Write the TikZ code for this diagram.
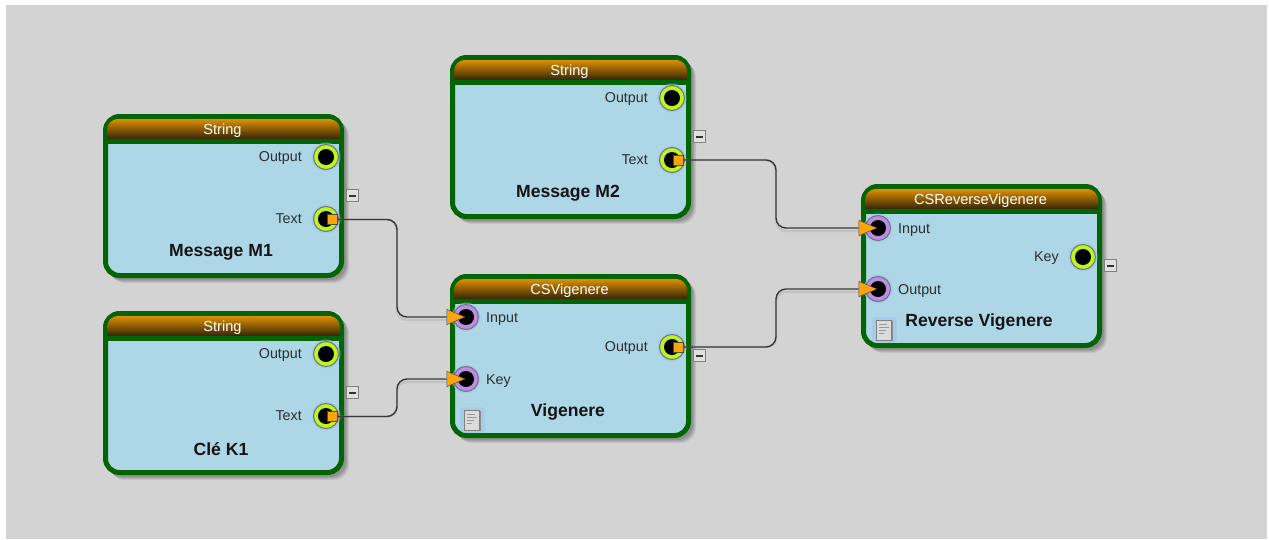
\documentclass[tikz,border=0pt]{standalone}
\usepackage{fontspec}
\setmainfont{Liberation Sans}
\usetikzlibrary{arrows.meta}
\definecolor{canvasgray}{HTML}{D3D3D3}
\definecolor{boxgreen}{HTML}{036403}
\definecolor{bodyblue}{HTML}{ADD6E6}
\definecolor{hdrtop}{HTML}{DD8F00}
\definecolor{hdrbot}{HTML}{33250A}
\definecolor{ringlime}{HTML}{BDF520}
\definecolor{ringpurple}{HTML}{BC8CE6}
\definecolor{halo}{HTML}{9DC4EE}
\definecolor{tiporange}{HTML}{FFA50A}
\tikzset{
  x=1pt,y=-1pt,
  boxshell/.style={draw=boxgreen,line width=5pt,fill=bodyblue,rounded corners=14pt},
  boxshadow/.style={fill=black,rounded corners=15pt},
  hdrtext/.style={font=\fontsize{14.6}{15}\selectfont,text=white,inner sep=0pt},
  titletext/.style={font=\fontsize{17.6}{18}\selectfont\bfseries,text=black!92,inner sep=0pt},
  lbl/.style={font=\fontsize{14.3}{15}\selectfont,text=black!82,inner sep=0pt},
  outport/.style={circle,draw=black!55,line width=1pt,fill=ringlime,minimum size=25pt,inner sep=0pt},
  inport/.style={circle,draw=black!55,line width=1pt,fill=ringpurple,minimum size=25pt,inner sep=0pt},
  portcore/.style={circle,fill=black,minimum size=16pt,inner sep=0pt},
  sqnode/.style={draw=black!70,line width=0.7pt,fill=tiporange,minimum size=10pt,inner sep=0pt},
  minusbox/.style={draw=black!50,line width=0.7pt,fill=black!12,minimum size=12pt,inner sep=0pt},
  docicon/.style={draw=black!50,line width=0.9pt,fill=black!14,minimum width=15pt,minimum height=20pt,inner sep=0pt},
  wire/.style={draw=black!78,line width=1.4pt,rounded corners=10pt},
  wireshadow/.style={draw=black!40,opacity=0.28,line width=2.4pt,rounded corners=10pt},
  arrowwire/.style={wire,shorten >=0.5pt,-{Triangle[length=19pt,width=16pt,fill=tiporange,color=black!70,line width=0.5pt,fill=tiporange]}},
}
\newcommand{\blockbox}[5]{% name, x, y, header, title
  \begin{scope}[shift={(#2,#3)}]
    \foreach \s/\o in {7/0.07,6/0.08,5/0.09,4/0.10}
      \fill[boxshadow,opacity=\o] (0+\s,0+\s) rectangle (241+\s-2,164+\s-2);
    \path[boxshell] (2.5,2.5) rectangle (238.5,161.5);
    \shade[top color=hdrtop,bottom color=hdrbot] (4,25) [rounded corners=11pt] -- (4,5) -- (237,5) [sharp corners] -- (237,25) -- cycle;
    \fill[boxgreen] (3,24.5) rectangle (238,30);
    \node[hdrtext] (#1hdr) at (119.5,17) {#4};
    \node[titletext] (#1title) at (118,138) {#5};
    \node[minusbox] (#1minus) at (249,81.5) {};
    \fill[black!80] (245.5,81) rectangle (252.5,82.5);
  \end{scope}
}
\newcommand{\portO}[4]{% name,x,y,label
  \fill[halo,opacity=.55] (#2,#3) circle (14.5pt);
  \node[outport] (#1) at (#2,#3) {};
  \node[portcore] at (#2,#3) {};
  \node[lbl,anchor=mid east] (#1lbl) at (#2-24,#3+2) {#4};
}
\newcommand{\portI}[4]{%
  \fill[halo,opacity=.55] (#2,#3) circle (14.5pt);
  \node[inport] (#1) at (#2,#3) {};
  \node[portcore] at (#2,#3) {};
  \node[lbl,anchor=mid west] (#1lbl) at (#2+20,#3+3) {#4};
}
\newcommand{\docmark}[3]{%
  \fill[halo,opacity=.45,rounded corners=4pt] (#2-12,#3-13) rectangle (#2+13,#3+13);
  \fill[black!45] (#2-6,#3-9) rectangle (#2+9,#3+11);
  \node[docicon] (#1) at (#2,#3) {};
  \draw[black!40,line width=.6pt] (#2-5,#3-6) -- (#2+3,#3-6) (#2-5,#3-3) -- (#2+5,#3-3) (#2-5,#3) -- (#2+2,#3) (#2-5,#3+3) -- (#2,#3+3);
}
\begin{document}
\begin{tikzpicture}
\useasboundingbox (0,0) rectangle (1269,539);
\fill[white] (0,0) rectangle (1269,539);
\fill[canvasgray] (6,5) rectangle (1267,539);

\blockbox{ma}{103}{114}{String}{Message M1}
\blockbox{kb}{103}{311}{String}{Clé K1}
\blockbox{mb}{450}{55}{String}{Message M2}
\blockbox{vg}{450}{274}{CSVigenere}{Vigenere}
\blockbox{rv}{861}{184}{CSReverseVigenere}{Reverse Vigenere}

\portO{maout}{326}{157}{Output}
\portO{matxt}{326}{219}{Text}
\portO{kbout}{326}{354}{Output}
\portO{kbtxt}{326}{416}{Text}
\portO{mbout}{672}{98}{Output}
\portO{mbtxt}{672}{160}{Text}
\portI{vgin}{466}{317}{Input}
\portI{vgkey}{466}{379}{Key}
\portO{vgout}{672}{347}{Output}
\portI{rvin}{878}{228}{Input}
\portI{rvout}{878}{289}{Output}
\portO{rvkey}{1083}{257}{Key}
\docmark{vgdoc}{472}{420}
\docmark{rvdoc}{884}{330}

\node[sqnode] (masq) at (332,219.5) {};
\node[sqnode] (kbsq) at (332,416.5) {};
\node[sqnode] (mbsq) at (678,160) {};
\node[sqnode] (vgsq) at (678,347) {};

\coordinate (j1) at (397,268);
\coordinate (j2) at (397,398);
\coordinate (j3) at (776,194);
\coordinate (j4) at (776,318);

\begin{scope}[shift={(2,3)}]
\draw[wireshadow] (masq.east) -| (j1) |- (447,317);
\draw[wireshadow] (kbsq.east) -| (j2) |- (447,379);
\draw[wireshadow] (mbsq.east) -| (j3) |- (859,228);
\draw[wireshadow] (vgsq.east) -| (j4) |- (859,289);
\end{scope}
\draw[arrowwire] (masq.east) -| (j1) |- (vgin.center);
\draw[arrowwire] (kbsq.east) -| (j2) |- (vgkey.center);
\draw[arrowwire] (mbsq.east) -| (j3) |- (rvin.center);
\draw[arrowwire] (vgsq.east) -| (j4) |- (rvout.center);
\end{tikzpicture}
\end{document}
